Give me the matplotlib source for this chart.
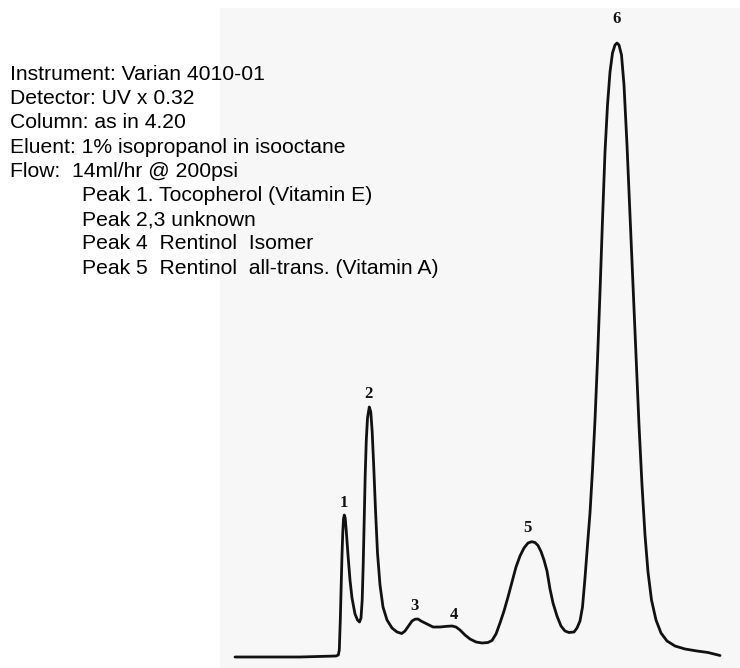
import matplotlib
matplotlib.use("Agg")
import matplotlib.pyplot as plt
from matplotlib.patches import Rectangle

# chromatogram trace (time in min, detector response in arbitrary units)
time_min = [0.0, 2.5, 6.5, 10.1, 10.33, 10.43, 10.53, 10.62, 10.7, 10.78, 10.85, 10.93,
            11.02, 11.12, 11.3, 11.5, 11.7, 12.0, 12.25, 12.45, 12.6, 12.72, 12.82, 12.92,
            13.02, 13.13, 13.25, 13.43, 13.58, 13.72, 13.88, 14.05, 14.25, 14.5, 14.8, 15.2,
            15.7, 16.2, 16.67, 17.0, 17.35, 17.7, 18.0, 18.3, 18.6, 19.2, 19.8, 20.5, 21.2,
            21.7, 22.1, 22.5, 23.0, 23.5, 24.1, 24.7, 25.3, 25.7, 26.1, 26.5, 26.9, 27.3,
            27.7, 28.1, 28.5, 28.9, 29.3, 29.67, 30.0, 30.3, 30.6, 30.9, 31.2, 31.5, 31.8,
            32.2, 32.6, 33.0, 33.4, 33.9, 34.2, 34.5, 34.75, 35.0, 35.25, 35.5, 35.75, 36.0,
            36.25, 36.5, 36.75, 37.0, 37.25, 37.5, 37.75, 38.0, 38.2, 38.4, 38.65, 38.9,
            39.2, 39.5, 39.8, 40.1, 40.4, 40.7, 41.0, 41.3, 41.65, 42.1, 42.6, 43.2, 44.0,
            45.0, 46.2, 47.3, 48.5]
response = [0.0, 0.0, 0.0, 0.1, 0.2, 0.7, 3.7, 7.2, 10.2, 12.5, 13.8, 14.2,
            13.9, 12.7, 10.2, 7.7, 5.9, 4.3, 3.7, 3.5, 3.9, 5.7, 9.2, 13.7,
            18.2, 21.7, 23.9, 25.0, 24.5, 22.5, 18.9, 14.7, 10.4, 7.2, 5.0, 3.7,
            2.9, 2.5, 2.35, 2.6, 3.1, 3.6, 3.78, 3.8, 3.6, 3.3, 3.0, 3.0, 3.07,
            3.1, 3.0, 2.7, 2.2, 1.8, 1.5, 1.4, 1.45, 1.65, 2.3, 3.4, 4.6, 6.0,
            7.5, 9.0, 10.1, 10.9, 11.4, 11.53, 11.45, 11.15, 10.55, 9.7, 8.6, 6.8, 5.4,
            4.1, 3.1, 2.6, 2.45, 2.5, 2.9, 3.6, 5.0, 7.9, 11.2, 14.4, 18.7, 23.7,
            29.7, 36.5, 43.7, 50.5, 55.2, 58.5, 60.4, 61.2, 61.4, 61.2, 60.2, 57.2,
            51.2, 44.2, 37.2, 30.2, 23.2, 17.2, 12.2, 8.5, 5.7, 3.7, 2.4, 1.6, 1.1,
            0.8, 0.6, 0.45, 0.15]

peak_labels = ["1", "2", "3", "4", "5", "6"]
peak_time = [10.93, 13.43, 18.3, 21.7, 29.67, 38.2]
peak_resp = [14.2, 25.0, 3.8, 3.1, 11.53, 61.4]

info_lines = [
    "Instrument: Varian 4010-01",
    "Detector: UV x 0.32",
    "Column: as in 4.20",
    "Eluent: 1% isopropanol in isooctane",
    "Flow:  14ml/hr @ 200psi",
]
peak_lines = [
    "Peak 1. Tocopherol (Vitamin E)",
    "Peak 2,3 unknown",
    "Peak 4  Rentinol  Isomer",
    "Peak 5  Rentinol  all-trans. (Vitamin A)",
]

fig = plt.figure(figsize=(7.4, 6.68), dpi=100)
W, H = 740, 668

ax = fig.add_axes([0, 0, 1, 1])
ax.set_xlim(-23.5, 50.5)
ax.set_ylim(-1.1, 65.7)
ax.axis("off")

# scanned page area behind the trace
ax.add_patch(Rectangle((220 / W, 0), 1 - 220 / W, 1 - 8 / H,
                       transform=fig.transFigure, facecolor="#f7f7f7",
                       edgecolor="none", zorder=0))

ax.plot(time_min, response, color="#111111", lw=2.0, zorder=3,
        solid_joinstyle="round", solid_capstyle="round")

# peak numbers, offsets in points above each apex
offsets = [(-0.7, 8.8), (-0.7, 9.6), (-2.2, 9.6), (1.4, 8.2), (-2.8, 9.9), (0, 17.3)]
for lab, t, r, off in zip(peak_labels, peak_time, peak_resp, offsets):
    ax.annotate(lab, (t, r), xytext=off, textcoords="offset points",
                ha="center", va="center", fontsize=12, fontweight="bold",
                family="Liberation Serif", color="#111111", zorder=4)

step = 24.2
for i, line in enumerate(info_lines + peak_lines):
    x = 10 if i < len(info_lines) else 82
    y = 80 + i * step
    fig.text(x / W, 1 - y / H, line, ha="left", va="baseline",
             fontsize=15.2, family="Liberation Sans", color="black")

fig.savefig("out.png", dpi=100)
